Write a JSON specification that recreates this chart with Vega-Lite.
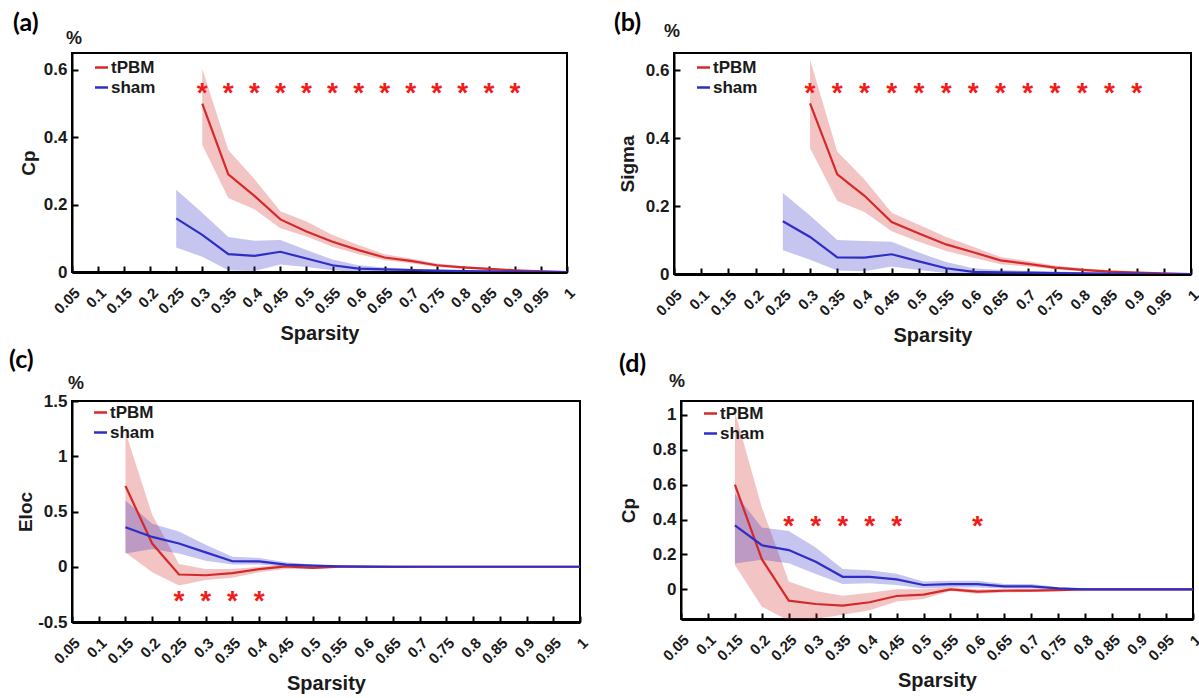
{
  "$schema": "https://vega.github.io/schema/vega-lite/v6.json",
  "background": "white",
  "padding": {"left": 8, "top": 10, "right": 0, "bottom": 0},
  "config": {
    "font": "Liberation Sans",
    "view": {"stroke": "black", "strokeWidth": 2},
    "axis": {
      "grid": false,
      "domainColor": "black",
      "tickColor": "black",
      "ticks": true,
      "tickSize": -6,
      "tickWidth": 2,
      "labelColor": "#1a1a1a",
      "titleColor": "#1a1a1a",
      "labelFont": "Liberation Sans",
      "titleFont": "Liberation Sans",
      "labelFontWeight": "bold",
      "titleFontWeight": "bold",
      "labelOverlap": false,
      "labelFlush": false,
      "labelBound": false
    },
    "axisX": {"labelAngle": -45, "labelFontSize": 15, "titleFontSize": 20, "domainWidth": 3, "labelPadding": 19, "labelOffset": 0, "titlePadding": 7},
    "axisY": {"labelFontSize": 17, "titleFontSize": 19, "domainWidth": 2, "labelPadding": 11, "titlePadding": 6},
    "legend": {
      "labelFont": "Liberation Sans",
      "labelFontWeight": "bold",
      "labelFontSize": 17,
      "labelColor": "#1a1a1a",
      "symbolType": "stroke",
      "symbolStrokeWidth": 2.5,
      "symbolSize": 170,
      "rowPadding": 2,
      "labelOffset": 1,
      "padding": 0
    }
  },
  "datasets": {
    "a": [
      {"s": 0.3, "g": "tPBM", "m": 0.5, "lo": 0.377, "hi": 0.603},
      {"s": 0.35, "g": "tPBM", "m": 0.29, "lo": 0.22, "hi": 0.362},
      {"s": 0.4, "g": "tPBM", "m": 0.226, "lo": 0.186, "hi": 0.276},
      {"s": 0.45, "g": "tPBM", "m": 0.156, "lo": 0.13, "hi": 0.18},
      {"s": 0.5, "g": "tPBM", "m": 0.12, "lo": 0.105, "hi": 0.15},
      {"s": 0.55, "g": "tPBM", "m": 0.09, "lo": 0.075, "hi": 0.11},
      {"s": 0.6, "g": "tPBM", "m": 0.065, "lo": 0.053, "hi": 0.08},
      {"s": 0.65, "g": "tPBM", "m": 0.043, "lo": 0.035, "hi": 0.053},
      {"s": 0.7, "g": "tPBM", "m": 0.033, "lo": 0.026, "hi": 0.04},
      {"s": 0.75, "g": "tPBM", "m": 0.02, "lo": 0.015, "hi": 0.025},
      {"s": 0.8, "g": "tPBM", "m": 0.014, "lo": 0.01, "hi": 0.018},
      {"s": 0.85, "g": "tPBM", "m": 0.009, "lo": 0.006, "hi": 0.012},
      {"s": 0.9, "g": "tPBM", "m": 0.005, "lo": 0.003, "hi": 0.007},
      {"s": 0.95, "g": "tPBM", "m": 0.002, "lo": 0.001, "hi": 0.003},
      {"s": 1, "g": "tPBM", "m": 0.0, "lo": 0.0, "hi": 0.001},
      {"s": 0.25, "g": "sham", "m": 0.159, "lo": 0.073, "hi": 0.244},
      {"s": 0.3, "g": "sham", "m": 0.11, "lo": 0.045, "hi": 0.176},
      {"s": 0.35, "g": "sham", "m": 0.053, "lo": 0.005, "hi": 0.104},
      {"s": 0.4, "g": "sham", "m": 0.048, "lo": 0.003, "hi": 0.093},
      {"s": 0.45, "g": "sham", "m": 0.06, "lo": 0.022, "hi": 0.095},
      {"s": 0.5, "g": "sham", "m": 0.04, "lo": 0.015, "hi": 0.065},
      {"s": 0.55, "g": "sham", "m": 0.02, "lo": 0.005, "hi": 0.037},
      {"s": 0.6, "g": "sham", "m": 0.01, "lo": 0.0, "hi": 0.02},
      {"s": 0.65, "g": "sham", "m": 0.008, "lo": 0.002, "hi": 0.013},
      {"s": 0.7, "g": "sham", "m": 0.006, "lo": 0.002, "hi": 0.01},
      {"s": 0.75, "g": "sham", "m": 0.004, "lo": 0.001, "hi": 0.007},
      {"s": 0.8, "g": "sham", "m": 0.003, "lo": 0.001, "hi": 0.005},
      {"s": 0.85, "g": "sham", "m": 0.002, "lo": 0.0, "hi": 0.004},
      {"s": 0.9, "g": "sham", "m": 0.001, "lo": 0.0, "hi": 0.002},
      {"s": 0.95, "g": "sham", "m": 0.0005, "lo": 0.0, "hi": 0.001},
      {"s": 1, "g": "sham", "m": 0.0, "lo": 0.0, "hi": 0.0}
    ],
    "b": [
      {"s": 0.3, "g": "tPBM", "m": 0.502, "lo": 0.37, "hi": 0.63},
      {"s": 0.35, "g": "tPBM", "m": 0.293, "lo": 0.215, "hi": 0.36},
      {"s": 0.4, "g": "tPBM", "m": 0.23, "lo": 0.182, "hi": 0.278},
      {"s": 0.45, "g": "tPBM", "m": 0.153, "lo": 0.126, "hi": 0.18},
      {"s": 0.5, "g": "tPBM", "m": 0.119, "lo": 0.095, "hi": 0.145},
      {"s": 0.55, "g": "tPBM", "m": 0.087, "lo": 0.068, "hi": 0.109},
      {"s": 0.6, "g": "tPBM", "m": 0.064, "lo": 0.048, "hi": 0.08},
      {"s": 0.65, "g": "tPBM", "m": 0.04, "lo": 0.029, "hi": 0.05},
      {"s": 0.7, "g": "tPBM", "m": 0.03, "lo": 0.022, "hi": 0.038},
      {"s": 0.75, "g": "tPBM", "m": 0.019, "lo": 0.014, "hi": 0.025},
      {"s": 0.8, "g": "tPBM", "m": 0.012, "lo": 0.008, "hi": 0.017},
      {"s": 0.85, "g": "tPBM", "m": 0.007, "lo": 0.004, "hi": 0.011},
      {"s": 0.9, "g": "tPBM", "m": 0.004, "lo": 0.002, "hi": 0.007},
      {"s": 0.95, "g": "tPBM", "m": 0.002, "lo": 0.0, "hi": 0.003},
      {"s": 1, "g": "tPBM", "m": 0.0, "lo": 0.0, "hi": 0.001},
      {"s": 0.25, "g": "sham", "m": 0.155, "lo": 0.07, "hi": 0.238},
      {"s": 0.3, "g": "sham", "m": 0.109, "lo": 0.042, "hi": 0.172},
      {"s": 0.35, "g": "sham", "m": 0.049, "lo": 0.01, "hi": 0.1},
      {"s": 0.4, "g": "sham", "m": 0.048, "lo": 0.008, "hi": 0.097},
      {"s": 0.45, "g": "sham", "m": 0.058, "lo": 0.022, "hi": 0.095},
      {"s": 0.5, "g": "sham", "m": 0.037, "lo": 0.012, "hi": 0.063},
      {"s": 0.55, "g": "sham", "m": 0.017, "lo": 0.003, "hi": 0.035},
      {"s": 0.6, "g": "sham", "m": 0.006, "lo": 0.0, "hi": 0.017},
      {"s": 0.65, "g": "sham", "m": 0.005, "lo": 0.0, "hi": 0.012},
      {"s": 0.7, "g": "sham", "m": 0.004, "lo": 0.0, "hi": 0.009},
      {"s": 0.75, "g": "sham", "m": 0.003, "lo": 0.0, "hi": 0.007},
      {"s": 0.8, "g": "sham", "m": 0.002, "lo": 0.0, "hi": 0.005},
      {"s": 0.85, "g": "sham", "m": 0.001, "lo": 0.0, "hi": 0.003},
      {"s": 0.9, "g": "sham", "m": 0.001, "lo": 0.0, "hi": 0.002},
      {"s": 0.95, "g": "sham", "m": 0.0, "lo": 0.0, "hi": 0.001},
      {"s": 1, "g": "sham", "m": 0.0, "lo": 0.0, "hi": 0.0}
    ],
    "c": [
      {"s": 0.15, "g": "tPBM", "m": 0.73, "lo": 0.13, "hi": 1.22},
      {"s": 0.2, "g": "tPBM", "m": 0.21, "lo": -0.05, "hi": 0.47},
      {"s": 0.25, "g": "tPBM", "m": -0.07, "lo": -0.17, "hi": 0.025},
      {"s": 0.3, "g": "tPBM", "m": -0.077, "lo": -0.12, "hi": -0.02},
      {"s": 0.35, "g": "tPBM", "m": -0.058, "lo": -0.1, "hi": -0.02},
      {"s": 0.4, "g": "tPBM", "m": -0.022, "lo": -0.05, "hi": 0.0},
      {"s": 0.45, "g": "tPBM", "m": 0.003, "lo": -0.02, "hi": 0.02},
      {"s": 0.5, "g": "tPBM", "m": -0.01, "lo": -0.02, "hi": 0.005},
      {"s": 0.55, "g": "tPBM", "m": 0.0, "lo": -0.01, "hi": 0.01},
      {"s": 0.6, "g": "tPBM", "m": 0.0, "lo": -0.01, "hi": 0.01},
      {"s": 0.65, "g": "tPBM", "m": -0.002, "lo": -0.01, "hi": 0.008},
      {"s": 0.7, "g": "tPBM", "m": 0.0, "lo": -0.008, "hi": 0.008},
      {"s": 0.75, "g": "tPBM", "m": 0.0, "lo": -0.006, "hi": 0.006},
      {"s": 0.8, "g": "tPBM", "m": 0.0, "lo": -0.004, "hi": 0.004},
      {"s": 0.85, "g": "tPBM", "m": 0.0, "lo": -0.003, "hi": 0.003},
      {"s": 0.9, "g": "tPBM", "m": 0.0, "lo": -0.002, "hi": 0.002},
      {"s": 0.95, "g": "tPBM", "m": 0.0, "lo": -0.001, "hi": 0.001},
      {"s": 1, "g": "tPBM", "m": 0.0, "lo": 0.0, "hi": 0.0},
      {"s": 0.15, "g": "sham", "m": 0.357, "lo": 0.12, "hi": 0.6},
      {"s": 0.2, "g": "sham", "m": 0.27, "lo": 0.16, "hi": 0.39},
      {"s": 0.25, "g": "sham", "m": 0.21, "lo": 0.12, "hi": 0.32},
      {"s": 0.3, "g": "sham", "m": 0.13, "lo": 0.055, "hi": 0.2},
      {"s": 0.35, "g": "sham", "m": 0.05, "lo": 0.02, "hi": 0.09},
      {"s": 0.4, "g": "sham", "m": 0.049, "lo": 0.02, "hi": 0.08},
      {"s": 0.45, "g": "sham", "m": 0.02, "lo": 0.0, "hi": 0.04},
      {"s": 0.5, "g": "sham", "m": 0.01, "lo": 0.0, "hi": 0.02},
      {"s": 0.55, "g": "sham", "m": 0.003, "lo": -0.005, "hi": 0.012},
      {"s": 0.6, "g": "sham", "m": 0.001, "lo": -0.005, "hi": 0.008},
      {"s": 0.65, "g": "sham", "m": 0.0, "lo": -0.005, "hi": 0.006},
      {"s": 0.7, "g": "sham", "m": 0.0, "lo": -0.004, "hi": 0.005},
      {"s": 0.75, "g": "sham", "m": 0.0, "lo": -0.003, "hi": 0.004},
      {"s": 0.8, "g": "sham", "m": 0.0, "lo": -0.003, "hi": 0.003},
      {"s": 0.85, "g": "sham", "m": 0.0, "lo": -0.002, "hi": 0.002},
      {"s": 0.9, "g": "sham", "m": 0.0, "lo": -0.002, "hi": 0.002},
      {"s": 0.95, "g": "sham", "m": 0.0, "lo": -0.001, "hi": 0.001},
      {"s": 1, "g": "sham", "m": 0.0, "lo": 0.0, "hi": 0.0}
    ],
    "d": [
      {"s": 0.15, "g": "tPBM", "m": 0.6, "lo": 0.14, "hi": 1.02},
      {"s": 0.2, "g": "tPBM", "m": 0.173, "lo": -0.1, "hi": 0.47},
      {"s": 0.25, "g": "tPBM", "m": -0.065, "lo": -0.18, "hi": 0.045},
      {"s": 0.3, "g": "tPBM", "m": -0.084, "lo": -0.17, "hi": -0.01},
      {"s": 0.35, "g": "tPBM", "m": -0.093, "lo": -0.145, "hi": -0.036},
      {"s": 0.4, "g": "tPBM", "m": -0.074, "lo": -0.12, "hi": -0.02},
      {"s": 0.45, "g": "tPBM", "m": -0.038, "lo": -0.07, "hi": 0.0},
      {"s": 0.5, "g": "tPBM", "m": -0.03, "lo": -0.055, "hi": 0.0},
      {"s": 0.55, "g": "tPBM", "m": 0.0, "lo": -0.01, "hi": 0.01},
      {"s": 0.6, "g": "tPBM", "m": -0.013, "lo": -0.025, "hi": 0.0},
      {"s": 0.65, "g": "tPBM", "m": -0.008, "lo": -0.018, "hi": 0.002},
      {"s": 0.7, "g": "tPBM", "m": -0.007, "lo": -0.015, "hi": 0.002},
      {"s": 0.75, "g": "tPBM", "m": -0.004, "lo": -0.01, "hi": 0.002},
      {"s": 0.8, "g": "tPBM", "m": 0.0, "lo": -0.004, "hi": 0.003},
      {"s": 0.85, "g": "tPBM", "m": 0.0, "lo": -0.003, "hi": 0.002},
      {"s": 0.9, "g": "tPBM", "m": 0.0, "lo": -0.002, "hi": 0.002},
      {"s": 0.95, "g": "tPBM", "m": 0.0, "lo": -0.001, "hi": 0.001},
      {"s": 1, "g": "tPBM", "m": 0.0, "lo": 0.0, "hi": 0.0},
      {"s": 0.15, "g": "sham", "m": 0.367, "lo": 0.148, "hi": 0.55},
      {"s": 0.2, "g": "sham", "m": 0.253, "lo": 0.17, "hi": 0.355},
      {"s": 0.25, "g": "sham", "m": 0.225, "lo": 0.15, "hi": 0.335},
      {"s": 0.3, "g": "sham", "m": 0.158, "lo": 0.088, "hi": 0.24},
      {"s": 0.35, "g": "sham", "m": 0.072, "lo": 0.03, "hi": 0.116},
      {"s": 0.4, "g": "sham", "m": 0.072, "lo": 0.035, "hi": 0.11},
      {"s": 0.45, "g": "sham", "m": 0.057, "lo": 0.025, "hi": 0.09},
      {"s": 0.5, "g": "sham", "m": 0.025, "lo": 0.005, "hi": 0.045},
      {"s": 0.55, "g": "sham", "m": 0.03, "lo": 0.01, "hi": 0.05},
      {"s": 0.6, "g": "sham", "m": 0.03, "lo": 0.01, "hi": 0.05},
      {"s": 0.65, "g": "sham", "m": 0.017, "lo": 0.005, "hi": 0.03},
      {"s": 0.7, "g": "sham", "m": 0.017, "lo": 0.005, "hi": 0.03},
      {"s": 0.75, "g": "sham", "m": 0.006, "lo": 0.0, "hi": 0.012},
      {"s": 0.8, "g": "sham", "m": 0.0, "lo": -0.003, "hi": 0.003},
      {"s": 0.85, "g": "sham", "m": 0.0, "lo": -0.002, "hi": 0.002},
      {"s": 0.9, "g": "sham", "m": 0.0, "lo": -0.002, "hi": 0.002},
      {"s": 0.95, "g": "sham", "m": 0.0, "lo": -0.001, "hi": 0.001},
      {"s": 1, "g": "sham", "m": 0.0, "lo": 0.0, "hi": 0.0}
    ],
    "starsA": [
      {"s": 0.3, "y": 0.55}, {"s": 0.35, "y": 0.55}, {"s": 0.4, "y": 0.55}, {"s": 0.45, "y": 0.55},
      {"s": 0.5, "y": 0.55}, {"s": 0.55, "y": 0.55}, {"s": 0.6, "y": 0.55}, {"s": 0.65, "y": 0.55},
      {"s": 0.7, "y": 0.55}, {"s": 0.75, "y": 0.55}, {"s": 0.8, "y": 0.55}, {"s": 0.85, "y": 0.55},
      {"s": 0.9, "y": 0.55}
    ],
    "starsC": [
      {"s": 0.25, "y": -0.26}, {"s": 0.3, "y": -0.26}, {"s": 0.35, "y": -0.26}, {"s": 0.4, "y": -0.26}
    ],
    "starsD": [
      {"s": 0.25, "y": 0.4}, {"s": 0.3, "y": 0.4}, {"s": 0.35, "y": 0.4}, {"s": 0.4, "y": 0.4},
      {"s": 0.45, "y": 0.4}, {"s": 0.6, "y": 0.4}
    ]
  },
  "spacing": 0,
  "resolve": {"scale": {"color": "independent"}, "legend": {"color": "independent"}},
  "vconcat": [
    {
      "spacing": 34,
      "resolve": {"scale": {"color": "independent"}, "legend": {"color": "independent"}},
      "hconcat": [
        {
          "width": 495,
          "height": 219,
          "layer": [
            {
              "data": {"name": "a"},
              "mark": {"type": "area", "opacity": 0.28, "clip": true},
              "encoding": {
                "x": {"field": "s", "type": "quantitative", "title": "Sparsity", "scale": {"domain": [0.05, 1], "nice": false, "zero": false},
                      "axis": {"values": [0.05, 0.1, 0.15, 0.2, 0.25, 0.3, 0.35, 0.4, 0.45, 0.5, 0.55, 0.6, 0.65, 0.7, 0.75, 0.8, 0.85, 0.9, 0.95, 1], "labelExpr": "'' + datum.value", "labelOverlap": false}},
                "y": {"field": "lo", "type": "quantitative", "title": "Cp", "scale": {"domain": [0, 0.65], "nice": false, "zero": false},
                      "axis": {"values": [0, 0.2, 0.4, 0.6], "labelExpr": "'' + datum.value", "labelOverlap": false, "titlePadding": 5}},
                "y2": {"field": "hi"},
                "color": {"field": "g", "type": "nominal", "scale": {"domain": ["tPBM", "sham"], "range": ["#d42a2a", "#2e2ec4"]},
                          "legend": {"title": null, "orient": "none", "legendX": 21, "legendY": 6, "symbolType": "stroke", "symbolOpacity": 1}}
              }
            },
            {
              "data": {"name": "a"},
              "mark": {"type": "line", "strokeWidth": 2.2, "clip": true},
              "encoding": {
                "x": {"field": "s", "type": "quantitative", "title": "Sparsity",
                      "axis": {"values": [0.05, 0.1, 0.15, 0.2, 0.25, 0.3, 0.35, 0.4, 0.45, 0.5, 0.55, 0.6, 0.65, 0.7, 0.75, 0.8, 0.85, 0.9, 0.95, 1], "labelExpr": "'' + datum.value", "labelOverlap": false}},
                "y": {"field": "m", "type": "quantitative", "title": "Cp",
                      "axis": {"values": [0, 0.2, 0.4, 0.6], "labelExpr": "'' + datum.value", "labelOverlap": false, "titlePadding": 5}},
                "color": {"field": "g", "type": "nominal", "scale": {"domain": ["tPBM", "sham"], "range": ["#d42a2a", "#2e2ec4"]},
                          "legend": {"title": null, "orient": "none", "legendX": 21, "legendY": 6, "symbolType": "stroke", "symbolOpacity": 1}}
              }
            },
            {
              "data": {"name": "starsA"},
              "mark": {"type": "text", "text": "*", "color": "#f01c1c", "font": "Liberation Sans", "fontSize": 28, "fontWeight": "bold", "baseline": "middle", "dy": 7},
              "encoding": {
                "x": {"field": "s", "type": "quantitative", "title": "Sparsity",
                      "axis": {"values": [0.05, 0.1, 0.15, 0.2, 0.25, 0.3, 0.35, 0.4, 0.45, 0.5, 0.55, 0.6, 0.65, 0.7, 0.75, 0.8, 0.85, 0.9, 0.95, 1], "labelExpr": "'' + datum.value", "labelOverlap": false}},
                "y": {"field": "y", "type": "quantitative", "title": "Cp",
                      "axis": {"values": [0, 0.2, 0.4, 0.6], "labelExpr": "'' + datum.value", "labelOverlap": false, "titlePadding": 5}}
              }
            },
            {
              "data": {"values": [{}]},
              "mark": {"type": "text", "text": "%", "font": "Liberation Sans", "fontSize": 18, "fontWeight": "bold", "color": "#1a1a1a", "baseline": "bottom", "align": "left", "dx": -6, "dy": -5},
              "encoding": {
                "x": {"datum": 0.05, "title": "Sparsity",
                      "axis": {"values": [0.05, 0.1, 0.15, 0.2, 0.25, 0.3, 0.35, 0.4, 0.45, 0.5, 0.55, 0.6, 0.65, 0.7, 0.75, 0.8, 0.85, 0.9, 0.95, 1], "labelExpr": "'' + datum.value", "labelOverlap": false}},
                "y": {"datum": 0.65, "title": "Cp",
                      "axis": {"values": [0, 0.2, 0.4, 0.6], "labelExpr": "'' + datum.value", "labelOverlap": false, "titlePadding": 5}}
              }
            },
            {
              "data": {"values": [{}]},
              "mark": {"type": "text", "text": "(a)", "font": "Lato", "fontSize": 25, "fontWeight": "bold", "color": "black", "baseline": "top", "align": "left", "dx": -59, "dy": -42},
              "encoding": {
                "x": {"datum": 0.05, "title": "Sparsity",
                      "axis": {"values": [0.05, 0.1, 0.15, 0.2, 0.25, 0.3, 0.35, 0.4, 0.45, 0.5, 0.55, 0.6, 0.65, 0.7, 0.75, 0.8, 0.85, 0.9, 0.95, 1], "labelExpr": "'' + datum.value", "labelOverlap": false}},
                "y": {"datum": 0.65, "title": "Cp",
                      "axis": {"values": [0, 0.2, 0.4, 0.6], "labelExpr": "'' + datum.value", "labelOverlap": false, "titlePadding": 5}}
              }
            }
          ]
        },
        {
          "width": 517,
          "height": 221,
          "layer": [
            {
              "data": {"name": "b"},
              "mark": {"type": "area", "opacity": 0.28, "clip": true},
              "encoding": {
                "x": {"field": "s", "type": "quantitative", "title": "Sparsity", "scale": {"domain": [0.05, 1], "nice": false, "zero": false},
                      "axis": {"values": [0.05, 0.1, 0.15, 0.2, 0.25, 0.3, 0.35, 0.4, 0.45, 0.5, 0.55, 0.6, 0.65, 0.7, 0.75, 0.8, 0.85, 0.9, 0.95, 1], "labelExpr": "'' + datum.value", "labelOverlap": false}},
                "y": {"field": "lo", "type": "quantitative", "title": "Sigma", "scale": {"domain": [0, 0.65], "nice": false, "zero": false},
                      "axis": {"values": [0, 0.2, 0.4, 0.6], "labelExpr": "'' + datum.value", "labelOverlap": false, "titlePadding": 8}},
                "y2": {"field": "hi"},
                "color": {"field": "g", "type": "nominal", "scale": {"domain": ["tPBM", "sham"], "range": ["#d42a2a", "#2e2ec4"]},
                          "legend": {"title": null, "orient": "none", "legendX": 21, "legendY": 6, "symbolType": "stroke", "symbolOpacity": 1}}
              }
            },
            {
              "data": {"name": "b"},
              "mark": {"type": "line", "strokeWidth": 2.2, "clip": true},
              "encoding": {
                "x": {"field": "s", "type": "quantitative", "title": "Sparsity",
                      "axis": {"values": [0.05, 0.1, 0.15, 0.2, 0.25, 0.3, 0.35, 0.4, 0.45, 0.5, 0.55, 0.6, 0.65, 0.7, 0.75, 0.8, 0.85, 0.9, 0.95, 1], "labelExpr": "'' + datum.value", "labelOverlap": false}},
                "y": {"field": "m", "type": "quantitative", "title": "Sigma",
                      "axis": {"values": [0, 0.2, 0.4, 0.6], "labelExpr": "'' + datum.value", "labelOverlap": false, "titlePadding": 8}},
                "color": {"field": "g", "type": "nominal", "scale": {"domain": ["tPBM", "sham"], "range": ["#d42a2a", "#2e2ec4"]},
                          "legend": {"title": null, "orient": "none", "legendX": 21, "legendY": 6, "symbolType": "stroke", "symbolOpacity": 1}}
              }
            },
            {
              "data": {"name": "starsA"},
              "mark": {"type": "text", "text": "*", "color": "#f01c1c", "font": "Liberation Sans", "fontSize": 28, "fontWeight": "bold", "baseline": "middle", "dy": 7},
              "encoding": {
                "x": {"field": "s", "type": "quantitative", "title": "Sparsity",
                      "axis": {"values": [0.05, 0.1, 0.15, 0.2, 0.25, 0.3, 0.35, 0.4, 0.45, 0.5, 0.55, 0.6, 0.65, 0.7, 0.75, 0.8, 0.85, 0.9, 0.95, 1], "labelExpr": "'' + datum.value", "labelOverlap": false}},
                "y": {"field": "y", "type": "quantitative", "title": "Sigma",
                      "axis": {"values": [0, 0.2, 0.4, 0.6], "labelExpr": "'' + datum.value", "labelOverlap": false, "titlePadding": 8}}
              }
            },
            {
              "data": {"values": [{}]},
              "mark": {"type": "text", "text": "%", "font": "Liberation Sans", "fontSize": 18, "fontWeight": "bold", "color": "#1a1a1a", "baseline": "bottom", "align": "left", "dx": -10, "dy": -12},
              "encoding": {
                "x": {"datum": 0.05, "title": "Sparsity",
                      "axis": {"values": [0.05, 0.1, 0.15, 0.2, 0.25, 0.3, 0.35, 0.4, 0.45, 0.5, 0.55, 0.6, 0.65, 0.7, 0.75, 0.8, 0.85, 0.9, 0.95, 1], "labelExpr": "'' + datum.value", "labelOverlap": false}},
                "y": {"datum": 0.65, "title": "Sigma",
                      "axis": {"values": [0, 0.2, 0.4, 0.6], "labelExpr": "'' + datum.value", "labelOverlap": false, "titlePadding": 8}}
              }
            },
            {
              "data": {"values": [{}]},
              "mark": {"type": "text", "text": "(b)", "font": "Lato", "fontSize": 25, "fontWeight": "bold", "color": "black", "baseline": "top", "align": "left", "dx": -60, "dy": -42},
              "encoding": {
                "x": {"datum": 0.05, "title": "Sparsity",
                      "axis": {"values": [0.05, 0.1, 0.15, 0.2, 0.25, 0.3, 0.35, 0.4, 0.45, 0.5, 0.55, 0.6, 0.65, 0.7, 0.75, 0.8, 0.85, 0.9, 0.95, 1], "labelExpr": "'' + datum.value", "labelOverlap": false}},
                "y": {"datum": 0.65, "title": "Sigma",
                      "axis": {"values": [0, 0.2, 0.4, 0.6], "labelExpr": "'' + datum.value", "labelOverlap": false, "titlePadding": 8}}
              }
            }
          ]
        }
      ]
    },
    {
      "spacing": 26,
      "resolve": {"scale": {"color": "independent"}, "legend": {"color": "independent"}},
      "hconcat": [
        {
          "width": 508,
          "height": 221,
          "layer": [
            {
              "data": {"name": "c"},
              "mark": {"type": "area", "opacity": 0.28, "clip": true},
              "encoding": {
                "x": {"field": "s", "type": "quantitative", "title": "Sparsity", "scale": {"domain": [0.05, 1], "nice": false, "zero": false},
                      "axis": {"values": [0.05, 0.1, 0.15, 0.2, 0.25, 0.3, 0.35, 0.4, 0.45, 0.5, 0.55, 0.6, 0.65, 0.7, 0.75, 0.8, 0.85, 0.9, 0.95, 1], "labelExpr": "'' + datum.value", "labelOverlap": false}},
                "y": {"field": "lo", "type": "quantitative", "title": "Eloc", "scale": {"domain": [-0.5, 1.5], "nice": false, "zero": false},
                      "axis": {"values": [-0.5, 0, 0.5, 1, 1.5], "labelExpr": "'' + datum.value", "labelOverlap": false, "titlePadding": 2}},
                "y2": {"field": "hi"},
                "color": {"field": "g", "type": "nominal", "scale": {"domain": ["tPBM", "sham"], "range": ["#d42a2a", "#2e2ec4"]},
                          "legend": {"title": null, "orient": "none", "legendX": 20, "legendY": 3, "symbolType": "stroke", "symbolOpacity": 1}}
              }
            },
            {
              "data": {"name": "c"},
              "mark": {"type": "line", "strokeWidth": 2.2, "clip": true},
              "encoding": {
                "x": {"field": "s", "type": "quantitative", "title": "Sparsity",
                      "axis": {"values": [0.05, 0.1, 0.15, 0.2, 0.25, 0.3, 0.35, 0.4, 0.45, 0.5, 0.55, 0.6, 0.65, 0.7, 0.75, 0.8, 0.85, 0.9, 0.95, 1], "labelExpr": "'' + datum.value", "labelOverlap": false}},
                "y": {"field": "m", "type": "quantitative", "title": "Eloc",
                      "axis": {"values": [-0.5, 0, 0.5, 1, 1.5], "labelExpr": "'' + datum.value", "labelOverlap": false, "titlePadding": 2}},
                "color": {"field": "g", "type": "nominal", "scale": {"domain": ["tPBM", "sham"], "range": ["#d42a2a", "#2e2ec4"]},
                          "legend": {"title": null, "orient": "none", "legendX": 20, "legendY": 3, "symbolType": "stroke", "symbolOpacity": 1}}
              }
            },
            {
              "data": {"name": "starsC"},
              "mark": {"type": "text", "text": "*", "color": "#f01c1c", "font": "Liberation Sans", "fontSize": 28, "fontWeight": "bold", "baseline": "middle", "dy": 7},
              "encoding": {
                "x": {"field": "s", "type": "quantitative", "title": "Sparsity",
                      "axis": {"values": [0.05, 0.1, 0.15, 0.2, 0.25, 0.3, 0.35, 0.4, 0.45, 0.5, 0.55, 0.6, 0.65, 0.7, 0.75, 0.8, 0.85, 0.9, 0.95, 1], "labelExpr": "'' + datum.value", "labelOverlap": false}},
                "y": {"field": "y", "type": "quantitative", "title": "Eloc",
                      "axis": {"values": [-0.5, 0, 0.5, 1, 1.5], "labelExpr": "'' + datum.value", "labelOverlap": false, "titlePadding": 2}}
              }
            },
            {
              "data": {"values": [{}]},
              "mark": {"type": "text", "text": "%", "font": "Liberation Sans", "fontSize": 18, "fontWeight": "bold", "color": "#1a1a1a", "baseline": "bottom", "align": "left", "dx": -4, "dy": -8},
              "encoding": {
                "x": {"datum": 0.05, "title": "Sparsity",
                      "axis": {"values": [0.05, 0.1, 0.15, 0.2, 0.25, 0.3, 0.35, 0.4, 0.45, 0.5, 0.55, 0.6, 0.65, 0.7, 0.75, 0.8, 0.85, 0.9, 0.95, 1], "labelExpr": "'' + datum.value", "labelOverlap": false}},
                "y": {"datum": 1.5, "title": "Eloc",
                      "axis": {"values": [-0.5, 0, 0.5, 1, 1.5], "labelExpr": "'' + datum.value", "labelOverlap": false, "titlePadding": 2}}
              }
            },
            {
              "data": {"values": [{}]},
              "mark": {"type": "text", "text": "(c)", "font": "Lato", "fontSize": 25, "fontWeight": "bold", "color": "black", "baseline": "top", "align": "left", "dx": -63, "dy": -53},
              "encoding": {
                "x": {"datum": 0.05, "title": "Sparsity",
                      "axis": {"values": [0.05, 0.1, 0.15, 0.2, 0.25, 0.3, 0.35, 0.4, 0.45, 0.5, 0.55, 0.6, 0.65, 0.7, 0.75, 0.8, 0.85, 0.9, 0.95, 1], "labelExpr": "'' + datum.value", "labelOverlap": false}},
                "y": {"datum": 1.5, "title": "Eloc",
                      "axis": {"values": [-0.5, 0, 0.5, 1, 1.5], "labelExpr": "'' + datum.value", "labelOverlap": false, "titlePadding": 2}}
              }
            }
          ]
        },
        {
          "width": 512,
          "height": 218,
          "layer": [
            {
              "data": {"name": "d"},
              "mark": {"type": "area", "opacity": 0.28, "clip": true},
              "encoding": {
                "x": {"field": "s", "type": "quantitative", "title": "Sparsity", "scale": {"domain": [0.05, 1], "nice": false, "zero": false},
                      "axis": {"values": [0.05, 0.1, 0.15, 0.2, 0.25, 0.3, 0.35, 0.4, 0.45, 0.5, 0.55, 0.6, 0.65, 0.7, 0.75, 0.8, 0.85, 0.9, 0.95, 1], "labelExpr": "'' + datum.value", "labelOverlap": false}},
                "y": {"field": "lo", "type": "quantitative", "title": "Cp", "scale": {"domain": [-0.17, 1.08], "nice": false, "zero": false},
                      "axis": {"values": [0, 0.2, 0.4, 0.6, 0.8, 1], "labelExpr": "'' + datum.value", "labelOverlap": false, "titlePadding": 14}},
                "y2": {"field": "hi"},
                "color": {"field": "g", "type": "nominal", "scale": {"domain": ["tPBM", "sham"], "range": ["#d42a2a", "#2e2ec4"]},
                          "legend": {"title": null, "orient": "none", "legendX": 21, "legendY": 4, "symbolType": "stroke", "symbolOpacity": 1}}
              }
            },
            {
              "data": {"name": "d"},
              "mark": {"type": "line", "strokeWidth": 2.2, "clip": true},
              "encoding": {
                "x": {"field": "s", "type": "quantitative", "title": "Sparsity",
                      "axis": {"values": [0.05, 0.1, 0.15, 0.2, 0.25, 0.3, 0.35, 0.4, 0.45, 0.5, 0.55, 0.6, 0.65, 0.7, 0.75, 0.8, 0.85, 0.9, 0.95, 1], "labelExpr": "'' + datum.value", "labelOverlap": false}},
                "y": {"field": "m", "type": "quantitative", "title": "Cp",
                      "axis": {"values": [0, 0.2, 0.4, 0.6, 0.8, 1], "labelExpr": "'' + datum.value", "labelOverlap": false, "titlePadding": 14}},
                "color": {"field": "g", "type": "nominal", "scale": {"domain": ["tPBM", "sham"], "range": ["#d42a2a", "#2e2ec4"]},
                          "legend": {"title": null, "orient": "none", "legendX": 21, "legendY": 4, "symbolType": "stroke", "symbolOpacity": 1}}
              }
            },
            {
              "data": {"name": "starsD"},
              "mark": {"type": "text", "text": "*", "color": "#f01c1c", "font": "Liberation Sans", "fontSize": 28, "fontWeight": "bold", "baseline": "middle", "dy": 7},
              "encoding": {
                "x": {"field": "s", "type": "quantitative", "title": "Sparsity",
                      "axis": {"values": [0.05, 0.1, 0.15, 0.2, 0.25, 0.3, 0.35, 0.4, 0.45, 0.5, 0.55, 0.6, 0.65, 0.7, 0.75, 0.8, 0.85, 0.9, 0.95, 1], "labelExpr": "'' + datum.value", "labelOverlap": false}},
                "y": {"field": "y", "type": "quantitative", "title": "Cp",
                      "axis": {"values": [0, 0.2, 0.4, 0.6, 0.8, 1], "labelExpr": "'' + datum.value", "labelOverlap": false, "titlePadding": 14}}
              }
            },
            {
              "data": {"values": [{}]},
              "mark": {"type": "text", "text": "%", "font": "Liberation Sans", "fontSize": 18, "fontWeight": "bold", "color": "#1a1a1a", "baseline": "bottom", "align": "left", "dx": -12, "dy": -10},
              "encoding": {
                "x": {"datum": 0.05, "title": "Sparsity",
                      "axis": {"values": [0.05, 0.1, 0.15, 0.2, 0.25, 0.3, 0.35, 0.4, 0.45, 0.5, 0.55, 0.6, 0.65, 0.7, 0.75, 0.8, 0.85, 0.9, 0.95, 1], "labelExpr": "'' + datum.value", "labelOverlap": false}},
                "y": {"datum": 1.08, "title": "Cp",
                      "axis": {"values": [0, 0.2, 0.4, 0.6, 0.8, 1], "labelExpr": "'' + datum.value", "labelOverlap": false, "titlePadding": 14}}
              }
            },
            {
              "data": {"values": [{}]},
              "mark": {"type": "text", "text": "(d)", "font": "Lato", "fontSize": 25, "fontWeight": "bold", "color": "black", "baseline": "top", "align": "left", "dx": -62, "dy": -49},
              "encoding": {
                "x": {"datum": 0.05, "title": "Sparsity",
                      "axis": {"values": [0.05, 0.1, 0.15, 0.2, 0.25, 0.3, 0.35, 0.4, 0.45, 0.5, 0.55, 0.6, 0.65, 0.7, 0.75, 0.8, 0.85, 0.9, 0.95, 1], "labelExpr": "'' + datum.value", "labelOverlap": false}},
                "y": {"datum": 1.08, "title": "Cp",
                      "axis": {"values": [0, 0.2, 0.4, 0.6, 0.8, 1], "labelExpr": "'' + datum.value", "labelOverlap": false, "titlePadding": 14}}
              }
            }
          ]
        }
      ]
    }
  ]
}
